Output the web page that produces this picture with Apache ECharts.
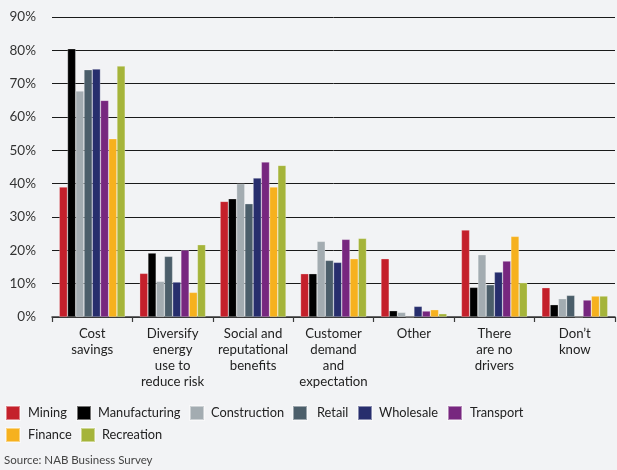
<!DOCTYPE html>
<html>
<head>
<meta charset="utf-8">
<script src="https://cdn.jsdelivr.net/npm/echarts@6/dist/echarts.min.js"></script>
<style>
html,body{margin:0;padding:0;background:#f2f3f5;}
#c{width:617px;height:470px;}
</style>
</head>
<body>
<div id="c"></div>
<script>
var categories = ["Cost\nsavings", "Diversify\nenergy\nuse to\nreduce risk", "Social and\nreputational\nbenefits", "Customer\ndemand\nand\nexpectation", "Other", "There\nare no\ndrivers", "Don\u2019t\nknow"];
var yTicks = [0, 10, 20, 30, 40, 50, 60, 70, 80, 90];
var seriesNames = ["Mining", "Manufacturing", "Construction", "Retail", "Wholesale", "Transport", "Finance", "Recreation"];
var mining        = [39.0, 13.1, 34.7, 13.0, 17.5, 26.1, 8.8];
var manufacturing = [80.5, 19.2, 35.5, 13.0, 1.9, 8.9, 3.7];
var construction  = [67.8, 10.7, 40.0, 22.7, 1.4, 18.7, 5.5];
var retail        = [74.2, 18.2, 34.0, 17.0, 0, 9.7, 6.5];
var wholesale     = [74.4, 10.5, 41.7, 16.4, 3.2, 13.5, 0];
var transport     = [65.0, 20.1, 46.5, 23.3, 1.8, 16.8, 5.1];
var finance       = [53.5, 7.4, 39.0, 17.5, 2.2, 24.2, 6.3];
var recreation    = [75.3, 21.7, 45.5, 23.6, 1.0, 10.3, 6.3];

var values = [mining, manufacturing, construction, retail, wholesale, transport, finance, recreation];
var colors = ["#c4202b", "#000000", "#a3acb1", "#4b5e6a", "#272e6d", "#77277f", "#f6b11e", "#a5b43a"];
var FONT = "Lato";
// legend item placement (left px, top px, extra text gap)
var legendPos = [[5, 405, 3], [76, 405, 2], [189, 405, 2], [292, 405, 5], [357, 405, 2], [447, 405, 3], [5, 427, 3], [80, 427, 2]];

var chart = echarts.init(document.getElementById('c'));
var series = seriesNames.map(function (n, i) {
  return {
    name: n, type: 'bar', data: values[i],
    barGap: '0%', barCategoryGap: '18%',
    itemStyle: { color: colors[i], borderColor: 'rgba(255,255,255,0.45)', borderWidth: 0.6 }
  };
});
var legends = seriesNames.map(function (n, i) {
  return {
    data: [n], left: legendPos[i][0], top: legendPos[i][1], itemWidth: 14, itemHeight: 14,
    icon: 'rect', padding: 0,
    textStyle: { fontFamily: FONT, fontSize: 12.8, color: '#222', padding: [0, 0, 0, legendPos[i][2]] }
  };
});
chart.setOption({
  backgroundColor: '#f2f3f5',
  animation: false,
  color: colors,
  grid: { left: 52, right: 2, top: 17, bottom: 153, containLabel: false },
  legend: legends,
  title: { text: 'Source: NAB Business Survey', left: 4, top: 454, padding: 0,
    textStyle: { fontFamily: FONT, fontSize: 11.5, fontWeight: 'normal', color: '#444' } },
  xAxis: {
    type: 'category', data: categories,
    axisLine: { lineStyle: { color: '#3a3a3a', width: 1.5 } },
    axisTick: { show: true, length: 5, interval: 0, lineStyle: { color: '#3a3a3a', width: 1.2 } },
    axisLabel: { interval: 0, margin: 9, fontFamily: FONT, fontSize: 13.2, lineHeight: 16, color: '#222' }
  },
  yAxis: {
    type: 'value', min: yTicks[0], max: yTicks[yTicks.length - 1], interval: 10,
    axisLine: { show: false }, axisTick: { show: false },
    axisLabel: { formatter: '{value}%', margin: 16, fontFamily: FONT, fontSize: 13.5, color: '#333' },
    splitLine: { lineStyle: { color: '#1a1a1a', width: 1 } }
  },
  series: series
});
</script>
</body>
</html>
